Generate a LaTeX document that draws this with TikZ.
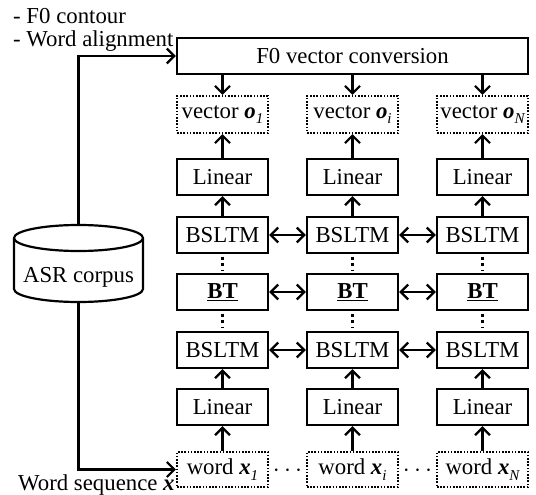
\documentclass[tikz,border=0pt]{standalone}
\usepackage{fontspec}
\setmainfont{Liberation Serif}
\usetikzlibrary{arrows.meta}
\newcommand{\mysub}[1]{\raisebox{-0.25em}{\fontsize{15}{15}\selectfont\itshape #1}}
\tikzset{
  box/.style={draw, line width=2.3pt, minimum width=91pt, minimum height=36pt, inner sep=0pt},
  dbox/.style={box, line width=2.1pt, dash pattern=on 1.6pt off 1.6pt},
  tip/.tip={Straight Barb[length=7.5pt,width=15pt,line width=2.2pt]},
  arr/.style={line width=2.2pt, -tip},
  darr/.style={line width=2.2pt, tip-tip},
  vdots/.style={line width=3pt, dash pattern=on 3pt off 3.5pt, shorten <=2.5pt, shorten >=2.5pt},
  plain/.style={inner sep=0pt},
  dotsnode/.style={inner sep=0pt, font=\fontsize{28}{28}\selectfont}
}
\begin{document}
\begin{tikzpicture}[x=1pt,y=-1pt,font=\fontsize{22.8}{27}\selectfont]
\useasboundingbox (0,0) rectangle (536,495);
% labels
\node[plain, anchor=base west] (lab1) at (13,24) {- F0 contour};
\node[plain, anchor=base west] (lab2) at (13,47) {- Word alignment};
\node[plain, anchor=base west] (lab3) at (18,490) {Word sequence \textbf{\textit{x}}};
% top conversion box
\node[box, minimum width=351pt] (f0) at (352.5,56) {F0 vector conversion};
% columns
\foreach \n/\x/\s in {1/222.5/1, 2/352.5/i, 3/482.5/N} {
  \node[dbox, minimum height=37pt] (v\n) at (\x,114.5) {vector \textbf{\textit{o}}\mysub{\s}};
  \node[box] (la\n) at (\x,177) {Linear};
  \node[box] (ba\n) at (\x,235) {BSLTM};
  \node[box] (bt\n) at (\x,292) {\underline{\textbf{BT}}};
  \node[box] (bb\n) at (\x,350) {BSLTM};
  \node[box] (lb\n) at (\x,407) {Linear};
  \node[dbox, minimum height=35pt] (w\n) at (\x,469.5) {word \textbf{\textit{x}}\mysub{\s}};
  \draw[arr] (v\n.north |- f0.south) -- (v\n.north);
  \draw[arr] (la\n) -- (v\n);
  \draw[arr] (ba\n) -- (la\n);
  \draw[vdots] (ba\n) -- (bt\n);
  \draw[vdots] (bt\n) -- (bb\n);
  \draw[arr] (lb\n) -- (bb\n);
  \draw[arr] (w\n) -- (lb\n);
}
\foreach \a/\b in {1/2, 2/3} {
  \draw[darr] (ba\a) -- (ba\b);
  \draw[darr] (bt\a) -- (bt\b);
  \draw[darr] (bb\a) -- (bb\b);
}
\node[dotsnode] (d1) at (287.5,471) {$\cdots$};
\node[dotsnode] (d2) at (417.5,471) {$\cdots$};
% corpus cylinder
\node[minimum width=129pt, minimum height=77pt, inner sep=0pt] (corpus) at (78.5,263.5) {};
\draw[line width=2.2pt, fill=white] (14,238) -- (14,289)
  arc[start angle=180, end angle=360, x radius=64.5pt, y radius=13pt] -- (143,238);
\draw[line width=2.2pt, fill=white] (78.5,238) ellipse [x radius=64.5pt, y radius=13pt];
\node[plain, anchor=base] (corpustext) at (78.5,282) {ASR corpus};
\draw[arr] (corpus.north) |- (f0.west);
\draw[arr] (corpus.south) |- (w1.west);
\end{tikzpicture}
\end{document}
